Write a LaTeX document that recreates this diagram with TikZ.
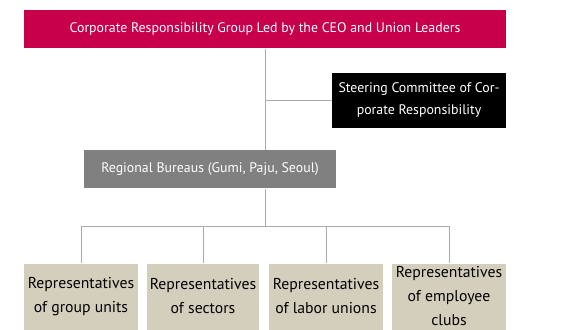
\documentclass[tikz,border=0pt]{standalone}
\usepackage{fontspec}
\setmainfont{PT Sans}
\usetikzlibrary{positioning}
\definecolor{crRed}{RGB}{200,0,75}
\definecolor{crGrey}{RGB}{128,128,128}
\definecolor{crTan}{RGB}{212,207,188}
\definecolor{crLine}{RGB}{170,170,170}
\tikzset{every picture/.style={line width=0.75pt}}
\tikzset{
  orgbox/.style={inner sep=0pt, align=center, font=\fontsize{10.4}{16.5}\selectfont},
  repbox/.style={orgbox, fill=crTan, text=black, minimum height=49.5pt, font=\fontsize{11.8}{18}\selectfont},
  orglink/.style={draw=crLine, line width=0.75pt}
}

\begin{document}
\begin{tikzpicture}[x=0.75pt,y=0.75pt,yscale=-1,xscale=1]
\useasboundingbox (0,0) rectangle (566,329);

% Text Node
\node (group) [orgbox, fill=crRed, text=white, minimum width=361.5pt, minimum height=28.5pt] at (265,29) {Corporate Responsibility Group Led by the CEO and Union Leaders};
% Text Node
\node (steer) [orgbox, fill=black, text=white, minimum width=130.5pt, minimum height=41.25pt] at (419,100) {Steering Committee of Cor-\\porate Responsibility};
% Text Node
\node (bureau) [orgbox, fill=crGrey, text=white, minimum width=189pt, minimum height=28.5pt] at (210,169) {Regional Bureaus (Gumi, Paju, Seoul)};
% Text Node
\node (units) [repbox, minimum width=85.5pt] at (81,296.5) {Representatives\\of group units};
\node (sectors) [repbox, minimum width=84pt] at (203,296.5) {Representatives\\of sectors};
\node (unions) [repbox, minimum width=85.5pt] at (326,296.5) {Representatives\\of labor unions};
\node (clubs) [repbox, minimum width=85.5pt] at (449,296.5) {Representatives\\of employee\\clubs};

\coordinate (bus) at (265,226);

%Straight Lines
\draw [orglink] (group.south) -- (group.south |- bureau.north);
\draw [orglink] (group.south |- bureau.south) -- (bus);
\draw [orglink] (group.south |- steer.west) -- (steer.west);
\draw [orglink] (units.north |- bus) -- (clubs.north |- bus);
\foreach \rep in {units,sectors,unions,clubs}
  \draw [orglink] (\rep.north |- bus) -- (\rep.north);

\end{tikzpicture}
\end{document}
